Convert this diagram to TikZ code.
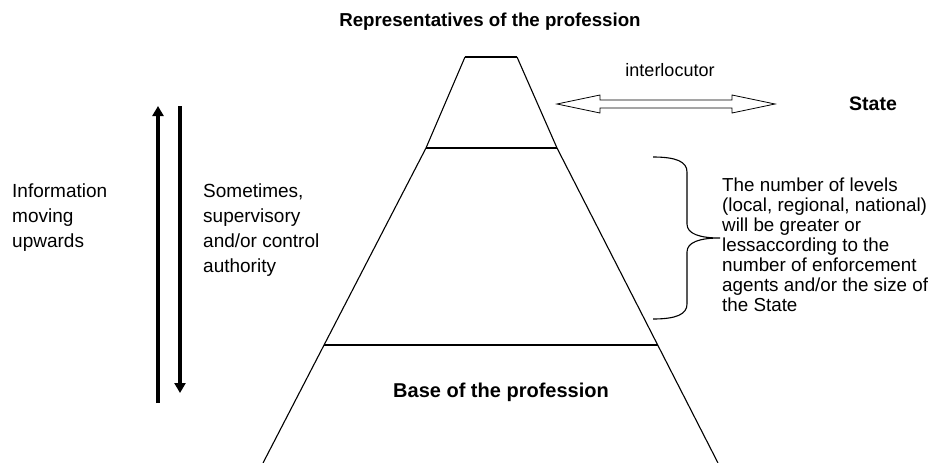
\documentclass[tikz,border=0pt]{standalone}
\usepackage{fontspec}
\setmainfont{Liberation Sans}
\usetikzlibrary{arrows.meta}

\begin{document}
\begin{tikzpicture}%
  [x=1pt,y=-1pt,
   side/.style={line width=1.1pt},
   level/.style={line width=2pt},
   flow/.style={line width=3.2pt,-{Triangle[width=11pt,length=10pt]}},
   big text/.style={font=\fontsize{18.7}{22}\selectfont\bfseries,inner sep=0},
   info text/.style={font=\fontsize{19}{24.7}\selectfont,align=left,anchor=north west,inner sep=0}]
  \tikzstyle{note text}=[font=\fontsize{18.8}{20}\selectfont,align=left,anchor=north west,inner sep=0]
  \useasboundingbox (0,0) rectangle (945,463);
  % pyramid
  \coordinate (top l) at (465,57);
  \coordinate (top r) at (517,57);
  \coordinate (mid l) at (426,148);
  \coordinate (mid r) at (557,148);
  \coordinate (low l) at (324,345);
  \coordinate (low r) at (658,345);
  \coordinate (base l) at (263,463);
  \coordinate (base r) at (718,463);
  \draw[side] (top l) -- (mid l) -- (base l);
  \draw[side] (top r) -- (mid r) -- (base r);
  \draw[level] (top l) -- (top r);
  \draw[level] (mid l) -- (mid r);
  \draw[side] (low l) -- (low r);
  \node(rep)[big text] at (490,22) {Representatives of the profession};
  \node(base)[big text,font=\fontsize{20}{22}\selectfont\bfseries,anchor=base] at (501,397) {Base of the profession};
  % interlocutor
  \node(inter)[font=\fontsize{18}{20}\selectfont,inner sep=0] at (670,70) {interlocutor};
  \node(state)[big text,font=\fontsize{19.5}{22}\selectfont\bfseries] at (873,104) {State};
  \draw[line width=0.8pt] (557,104) -- (600,95) -- (600,100) -- (732,100) -- (732,95)
    -- (775,104) -- (732,113) -- (732,108) -- (600,108) -- (600,113) -- cycle;
  % vertical arrows
  \coordinate (up s) at (158,403);
  \coordinate (up e) at (158,106);
  \coordinate (dn s) at (180,106);
  \coordinate (dn e) at (180,393);
  \draw[flow] (up s) -- (up e);
  \draw[flow] (dn s) -- (dn e);
  \node(info)[info text] at (12,184) {Information\\moving\\upwards};
  \node(ctrl)[info text] at (203,184) {Sometimes,\\supervisory\\and/or control\\authority};
  % brace
  \draw[side] (653,157) .. controls (677,157) and (687,162) .. (687,172) -- (687,224)
    .. controls (687,234) and (700,238) .. (720,238)
    .. controls (700,238) and (687,242) .. (687,252) -- (687,304)
    .. controls (687,314) and (677,319) .. (653,319);
  \node(levels)[note text] at (722,178) {The number of levels\\(local, regional, national)\\will be greater or\\lessaccording to the\\number of enforcement\\agents and/or the size of\\the State};
\end{tikzpicture}
\end{document}
